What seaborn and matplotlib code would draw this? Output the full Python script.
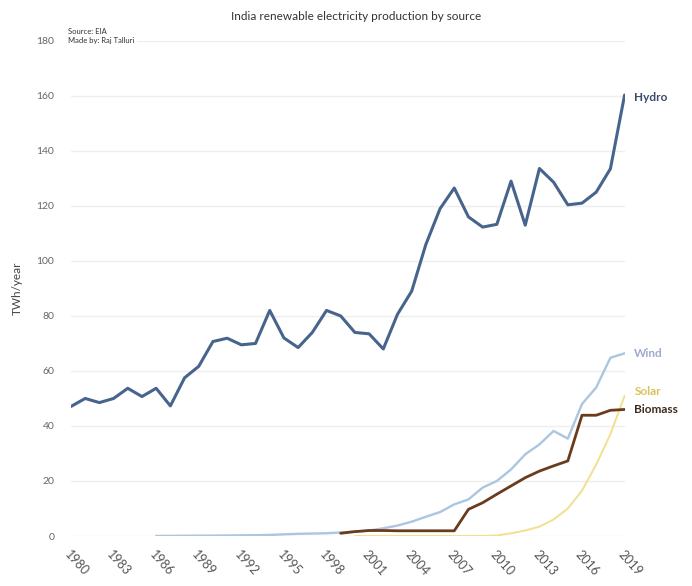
import matplotlib
matplotlib.use("Agg")
import matplotlib.pyplot as plt
import seaborn as sns
import pandas as pd
import numpy as np

title = "India renewable electricity production by source"
source_note = "Source: EIA\nMade by: Raj Talluri"
y_label = "TWh/year"

hydro_years = [1980, 1981, 1982, 1983, 1984, 1985, 1986, 1987, 1988, 1989,
               1990, 1991, 1992, 1993, 1994, 1995, 1996, 1997, 1998, 1999,
               2000, 2001, 2002, 2003, 2004, 2005, 2006, 2007, 2008, 2009,
               2010, 2011, 2012, 2013, 2014, 2015, 2016, 2017, 2018, 2019]
hydro = [47.1, 50.0, 48.5, 50.0, 53.7, 50.7, 53.7, 47.3, 57.5, 61.7,
         70.7, 71.9, 69.5, 70.0, 82.0, 72.0, 68.5, 74.0, 82.0, 80.0,
         74.0, 73.5, 68.0, 80.6, 89.0, 106.0, 119.0, 126.5, 116.0, 112.3,
         113.3, 129.0, 113.0, 133.6, 128.6, 120.4, 121.0, 125.0, 133.5, 160.3]

wind_years = [1986, 1987, 1988, 1989, 1990, 1991, 1992, 1993, 1994, 1995,
              1996, 1997, 1998, 1999, 2000, 2001, 2002, 2003, 2004, 2005,
              2006, 2007, 2008, 2009, 2010, 2011, 2012, 2013, 2014, 2015,
              2016, 2017, 2018, 2019]
wind = [0.03, 0.05, 0.1, 0.12, 0.15, 0.2, 0.25, 0.3, 0.4, 0.6,
        0.8, 0.9, 1.0, 1.3, 1.6, 2.0, 2.8, 3.8, 5.2, 7.0,
        8.7, 11.5, 13.3, 17.6, 20.0, 24.2, 29.7, 33.3, 38.2, 35.4,
        48.0, 54.0, 64.8, 66.4]

solar_years = [2000, 2001, 2002, 2003, 2004, 2005, 2006, 2007, 2008, 2009,
               2010, 2011, 2012, 2013, 2014, 2015, 2016, 2017, 2018, 2019]
solar = [0.01, 0.01, 0.01, 0.01, 0.01, 0.01, 0.01, 0.01, 0.02, 0.03,
         0.2, 1.0, 2.0, 3.4, 6.0, 10.0, 16.5, 26.0, 37.0, 51.0]

biomass_years = [1999, 2000, 2001, 2002, 2003, 2004, 2005, 2006, 2007, 2008,
                 2009, 2010, 2011, 2012, 2013, 2014, 2015, 2016, 2017, 2018, 2019]
biomass = [1.0, 1.6, 2.0, 2.0, 1.9, 1.9, 1.9, 1.9, 1.9, 9.7,
           12.1, 15.2, 18.2, 21.2, 23.6, 25.5, 27.3, 43.9, 43.9, 45.7, 46.0]

x_ticks = [1980, 1983, 1986, 1989, 1992, 1995, 1998, 2001, 2004, 2007,
           2010, 2013, 2016, 2019]
y_ticks = [0, 20, 40, 60, 80, 100, 120, 140, 160, 180]

sources = ["Hydro", "Wind", "Solar", "Biomass"]
line_colors = {"Hydro": "#47648c", "Wind": "#aac6e0", "Solar": "#f1e08e", "Biomass": "#6a3b1d"}
label_colors = {"Hydro": "#3a4a66", "Wind": "#9fa9cf", "Solar": "#d8c25c", "Biomass": "#3b2a1e"}
line_widths = {"Hydro": 2.2, "Wind": 1.7, "Solar": 1.4, "Biomass": 2.0}

frames = []
for name, yrs, vals in [("Hydro", hydro_years, hydro), ("Wind", wind_years, wind),
                        ("Solar", solar_years, solar), ("Biomass", biomass_years, biomass)]:
    frames.append(pd.DataFrame({"Year": yrs, "Value": vals, "Source": name}))
df = pd.concat(frames, ignore_index=True)

sns.set_theme(style="white")
plt.rcParams["font.family"] = ["Lato", "DejaVu Sans"]

fig = plt.figure(figsize=(6.92, 5.86), dpi=100)
ax = fig.add_axes([0.1026, 0.0853, 0.800, 0.845])

for name in sources:
    sub = df[df["Source"] == name]
    sns.lineplot(data=sub, x="Year", y="Value", ax=ax, color=line_colors[name],
                 linewidth=line_widths[name], legend=False, zorder=3)

ax.set_xlim(1980, 2019)
ax.set_ylim(0, 180)
ax.set_yticks(y_ticks)
ax.set_xticks(x_ticks)
ax.set_xticklabels([str(t) for t in x_ticks], rotation=-48, ha="left",
                   rotation_mode="anchor", fontsize=9, color="#555555")
ax.tick_params(axis="x", pad=9, length=0)
ax.tick_params(axis="y", pad=12, length=0, labelsize=7.5, labelcolor="#666666")
ax.yaxis.grid(True, color="#eeeeee", linewidth=1.0)
ax.xaxis.grid(False)
for s in ax.spines.values():
    s.set_visible(False)
ax.set_xlabel("")
ax.set_ylabel(y_label, fontsize=8.5, color="#444444", labelpad=10)

ends = {"Hydro": (hydro_years[-1], hydro[-1]), "Wind": (wind_years[-1], wind[-1]),
        "Solar": (solar_years[-1], solar[-1]), "Biomass": (biomass_years[-1], biomass[-1])}
offsets = {"Hydro": (7, -2), "Wind": (7, 0), "Solar": (7, 3), "Biomass": (7, 0)}
for name in sources:
    xe, ye = ends[name]
    ax.annotate(name, xy=(xe, ye), xytext=offsets[name], textcoords="offset points",
                ha="left", va="center", fontsize=8.5, fontweight="bold",
                color=label_colors[name], annotation_clip=False)

fig.text(0.514, 0.972, title, ha="center", va="center", fontsize=8.5, color="#333333")
fig.text(0.098, 0.9386, source_note, ha="left", va="center",
         fontsize=5.5, color="#333333", linespacing=1.3,
         bbox=dict(facecolor="white", edgecolor="none", pad=2), zorder=5)

fig.savefig("out.png", dpi=100)
